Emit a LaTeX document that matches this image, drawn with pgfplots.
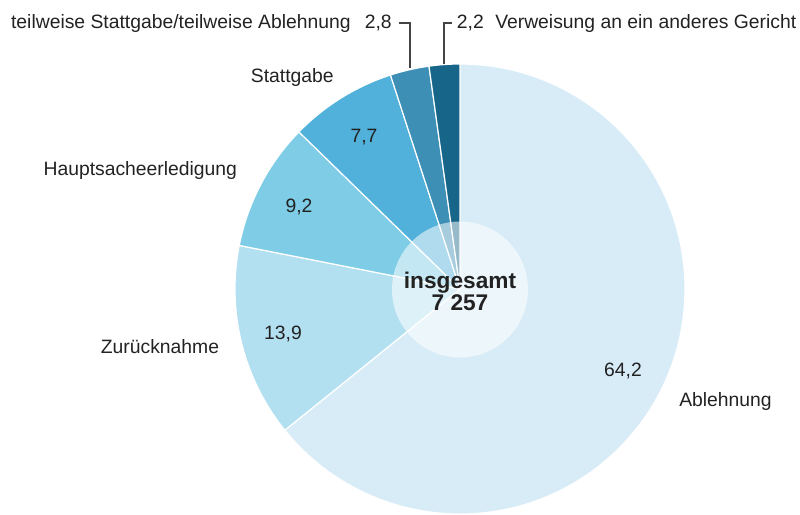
\documentclass[border=0pt]{standalone}
\usepackage{pgfplots}
\usepackage{pgfplotstable}
\usepackage{fontspec}
\setmainfont{Liberation Sans}
\pgfplotsset{compat=1.18}
\definecolor{slice0}{HTML}{D8ECF8}
\definecolor{slice1}{HTML}{B3E0F1}
\definecolor{slice2}{HTML}{7ECCE6}
\definecolor{slice3}{HTML}{52B1DA}
\definecolor{slice4}{HTML}{3D8FB6}
\definecolor{slice5}{HTML}{17668A}
\definecolor{txt}{HTML}{222222}
\definecolor{leader}{HTML}{444444}
\tikzset{lbl/.style={text=txt, inner sep=0pt, font=\fontsize{14.5}{17}\selectfont},
         big/.style={text=txt, inner sep=0pt, font=\fontsize{17}{17}\selectfont\bfseries}}
\pgfplotstableread{
value
64.2
13.9
9.2
7.7
2.8
2.2
}\piedata
\begin{document}
\begin{tikzpicture}
\begin{axis}[
  x=0.75pt, y=0.75pt,
  xmin=0, xmax=800, ymin=0, ymax=513,
  y dir=reverse,
  hide axis, clip=false, scale only axis,
]
\path (axis cs:0,0) rectangle (axis cs:800,513);
\pgfmathsetmacro\cum{90}
\pgfplotsforeachungrouped \i in {0,...,5} {
  \pgfplotstablegetelem{\i}{value}\of\piedata
  \pgfmathsetmacro\start{\cum}
  \pgfmathsetmacro\stop{\cum-3.6*\pgfplotsretval}
  \edef\temp{\noexpand\fill[fill=slice\i, draw=white, line width=0.9pt, line join=round] (axis cs:460,289) -- ++(\start:168.75pt) arc[start angle=\start, end angle=\stop, radius=168.75pt] -- cycle;}
  \temp
  \global\let\cum\stop
}
\fill[white, opacity=0.55] (axis cs:460,289.5) circle[radius=51pt];
\draw[leader, line width=0.8pt] (axis cs:399,23) -- (axis cs:410,23) -- (axis cs:410,68);
\draw[leader, line width=0.8pt] (axis cs:451.5,23) -- (axis cs:444,23) -- (axis cs:444,64);
\node[lbl, anchor=base] at (axis cs:623,376) {64,2};
\node[lbl, anchor=base west] at (axis cs:679,406) {Ablehnung};
\node[lbl, anchor=base] at (axis cs:283,339) {13,9};
\node[lbl, anchor=base east] at (axis cs:219.3,353) {Zurücknahme};
\node[lbl, anchor=base] at (axis cs:299,212) {9,2};
\node[lbl, anchor=base east] at (axis cs:237.3,175) {Hauptsacheerledigung};
\node[lbl, anchor=base] at (axis cs:364,142) {7,7};
\node[lbl, anchor=base east] at (axis cs:334,82) {Stattgabe};
\node[lbl, anchor=base east] at (axis cs:392,28) {2,8};
\node[lbl, anchor=base east] at (axis cs:351,28) {teilweise Stattgabe/teilweise Ablehnung};
\node[lbl, anchor=base west] at (axis cs:456.7,28) {2,2};
\node[lbl, anchor=base west] at (axis cs:495,28) {Verweisung an ein anderes Gericht};
\node[big, anchor=base] at (axis cs:460,288.3) {insgesamt};
\node[big, anchor=base] at (axis cs:460,310) {7 257};
\end{axis}
\end{tikzpicture}
\end{document}
